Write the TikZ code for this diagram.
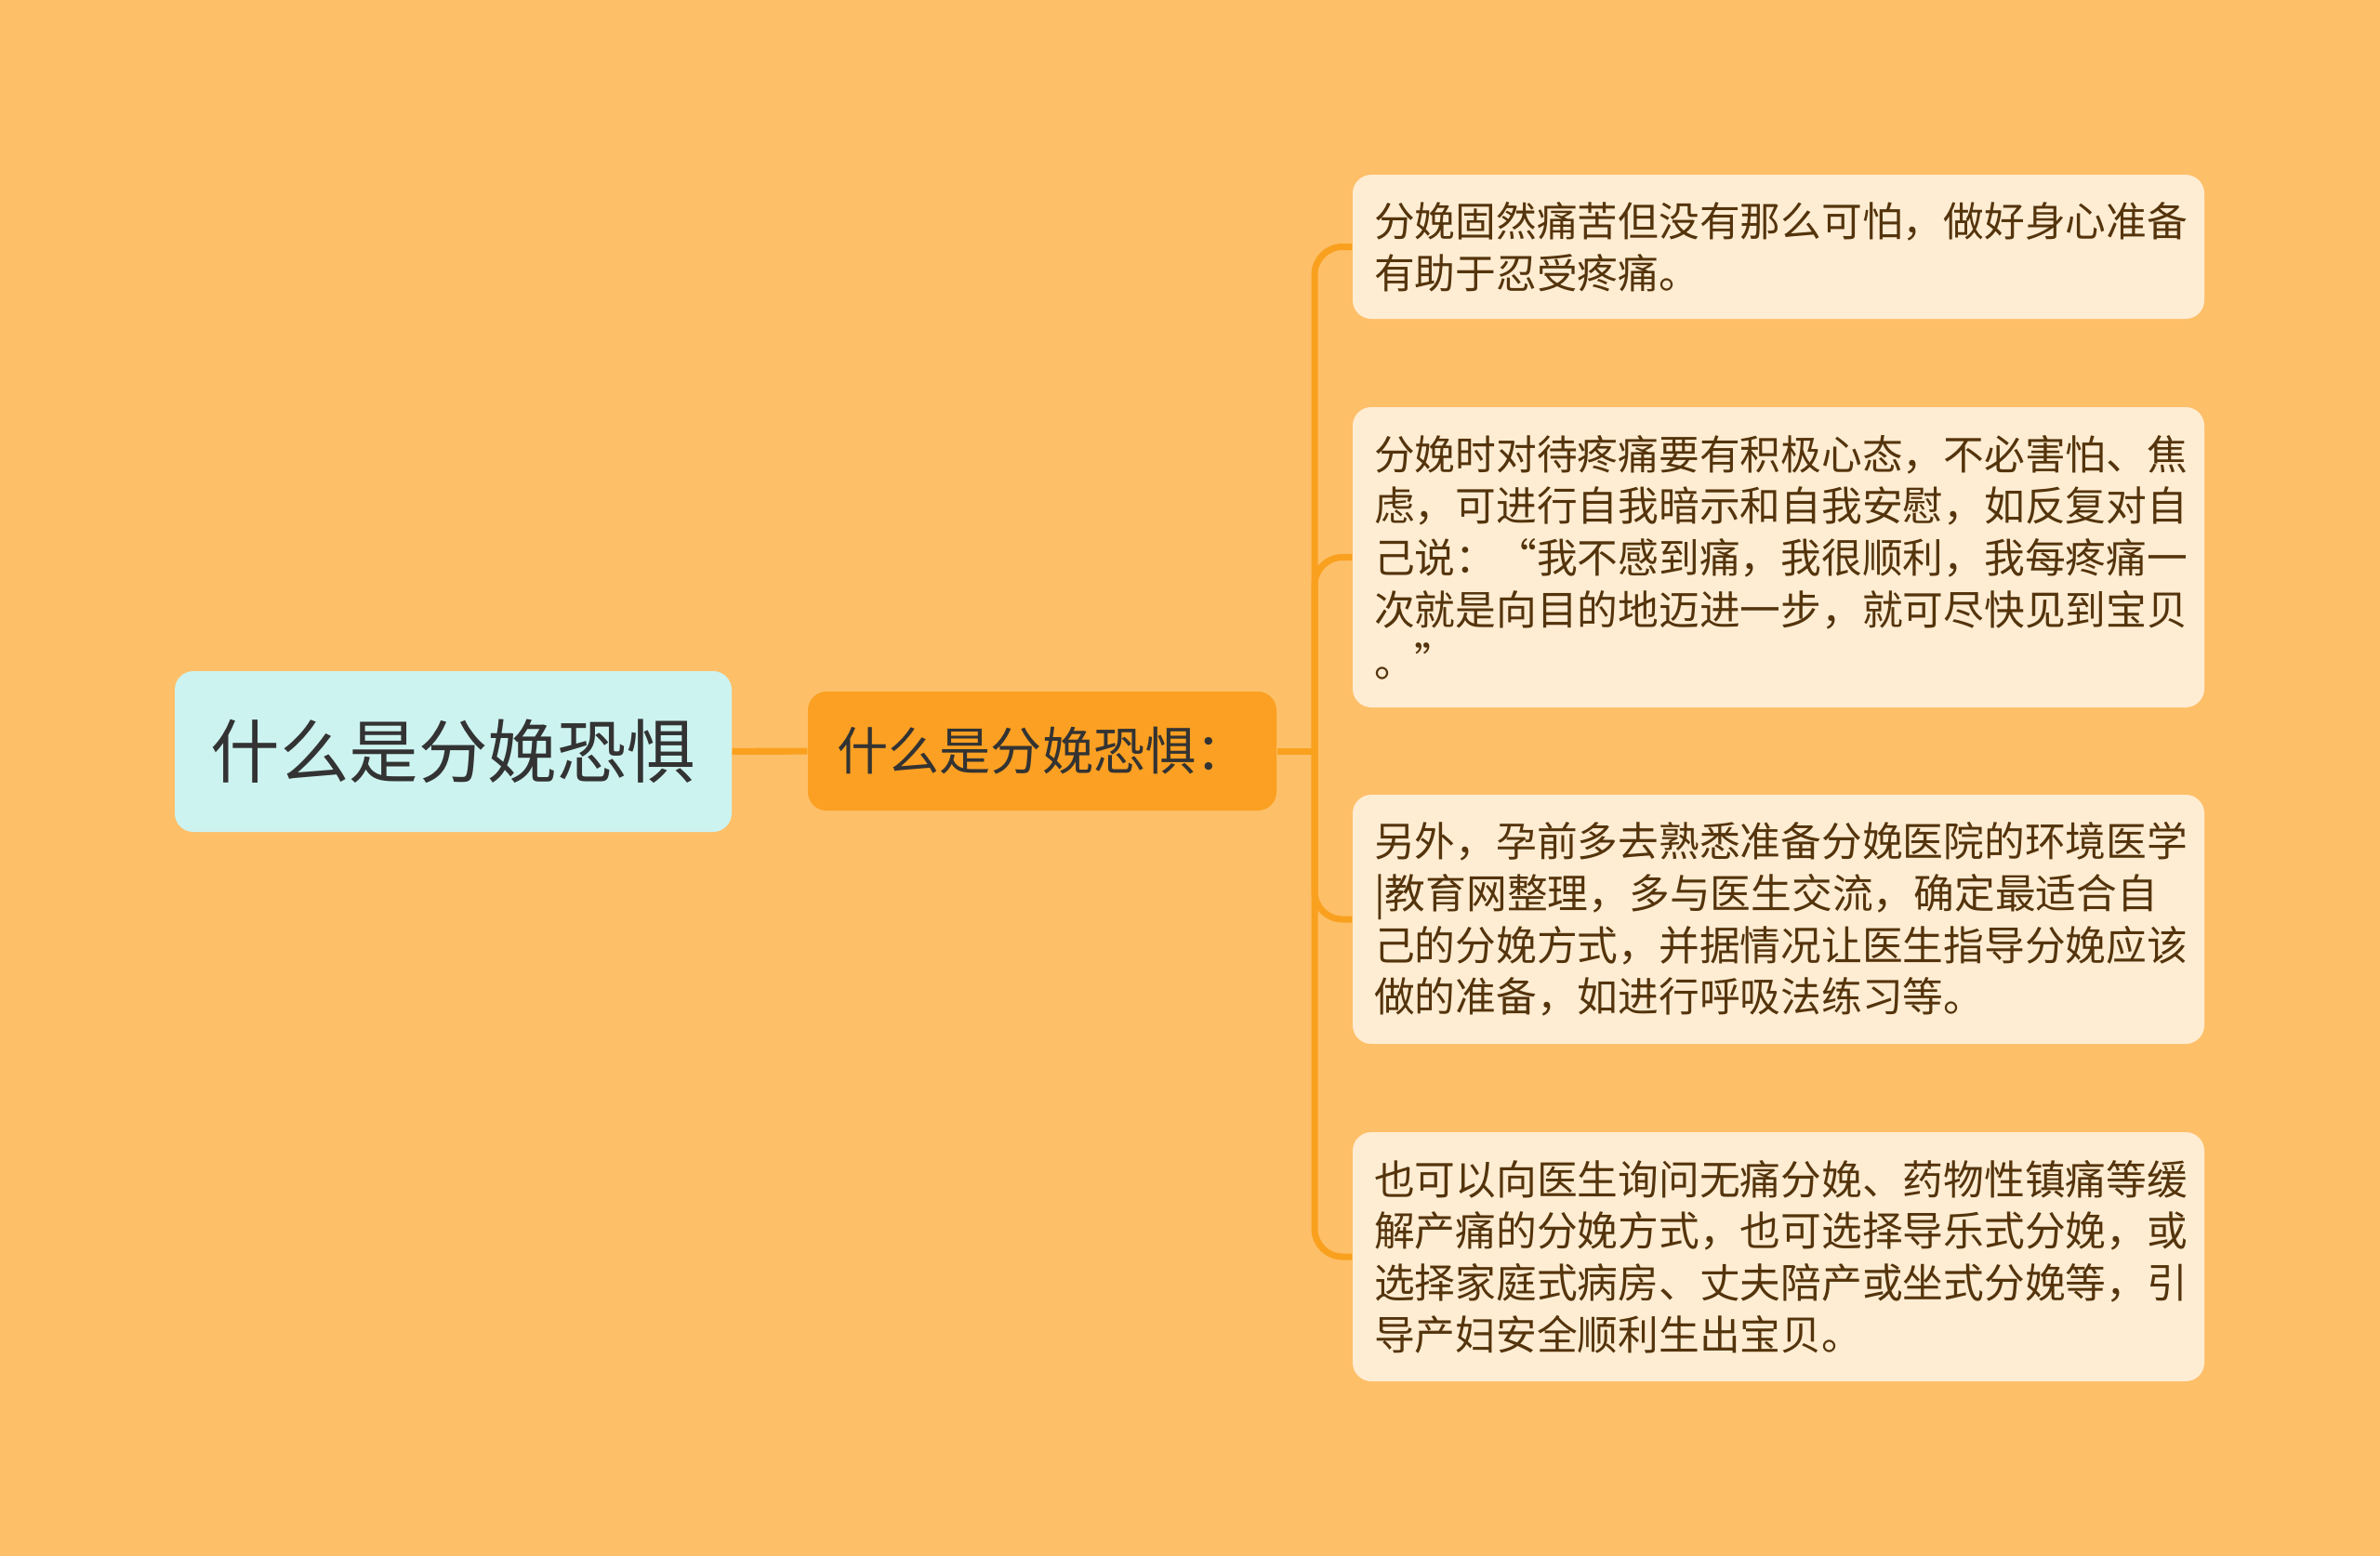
\documentclass[tikz,border=0pt]{standalone}
\usepackage{fontspec}
\setmainfont{Noto Sans CJK SC}
\usepackage{tikz}
\usetikzlibrary{positioning}

\definecolor{bgorange}{HTML}{FEBF69}
\definecolor{linkorange}{HTML}{F9A11F}
\definecolor{childfill}{HTML}{FBA022}
\definecolor{rootfill}{HTML}{CCF3F0}
\definecolor{leaffill}{HTML}{FFEDD3}
\definecolor{leaftext}{HTML}{54340C}
\definecolor{roottext}{HTML}{333333}

\tikzset{
  leafbox/.style={shape=rectangle,fill=leaffill,rounded corners=0.2cm,minimum width=9.16cm,inner xsep=0.23cm,text width=8.7cm,align=left,text=leaftext,font=\fontsize{12.45}{15.85}\selectfont},
  link/.style={draw=linkorange,line width=2pt,rounded corners=0.3cm}
}

\begin{document}
\begin{tikzpicture}
\useasboundingbox (0,0) rectangle (25.6,-16.73);
\fill [bgorange] (-0.2,0.2) rectangle (25.8,-16.93);

%draw root and middle nodes
\node [shape=rectangle,fill=rootfill,rounded corners=0.2cm,minimum width=5.99cm,minimum height=1.73cm,text=roottext,font=\fontsize{21.2}{26}\selectfont] at (4.875,-8.085) (root) {什么是分娩恐惧};
\node [shape=rectangle,fill=childfill,rounded corners=0.2cm,minimum width=5.04cm,minimum height=1.28cm,text=roottext,font=\fontsize{15.7}{19}\selectfont] at (11.21,-8.08) (topic) {什么是分娩恐惧：};

%draw leaf nodes
\node [leafbox,minimum height=1.55cm] at (19.13,-2.655) (leaf1) {分娩固然痛苦但没有那么可怕，做好身心准备\\有助于忍受疼痛。};
\node [leafbox,minimum height=3.23cm] at (19.13,-5.995) (leaf2) {分娩时对待疼痛要有积极心态，不必害怕、焦\\虑，可进行自我暗示和自我安慰，如反复对自\\己说：“我不感到痛，我很顺利，我每疼痛一\\次就是向目的地迈进一步，就可尽快见到宝贝\\。”};
\node [leafbox,minimum height=2.68cm] at (19.13,-9.89) (leaf3) {另外，孕前多去熟悉准备分娩医院的环境医学\\|教育网整理，多与医生交流，确定最适合自\\己的分娩方式，并据情况让医生指导分娩应该\\做的准备，如进行呼吸法练习等。};
\node [leafbox,minimum height=2.68cm] at (19.13,-13.52) (leaf4) {也可以向医生询问无痛分娩、药物性镇痛等缓\\解产痛的分娩方式，也可选择导乐式分娩，或\\选择家庭式病房、丈夫陪产或坐式分娩等，引\\导产妇安全顺利生出宝贝。};

%lines between nodes
\coordinate (trunk) at (14.14,-8.08);
\draw [link] (root) -- (topic);
\draw [link] (topic) -- (trunk);
\draw [link] (trunk) |- (leaf1.west);
\draw [link] (trunk) |- (leaf2.west);
\draw [link] (trunk) |- (leaf3.west);
\draw [link] (trunk) |- (leaf4.west);

\end{tikzpicture}
\end{document}
